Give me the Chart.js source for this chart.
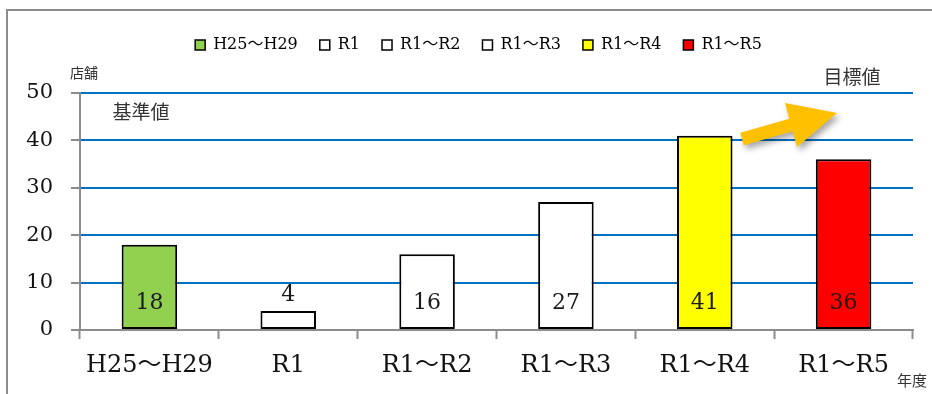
<!DOCTYPE html>
<html>
<head>
<meta charset="utf-8">
<script src="https://cdn.jsdelivr.net/npm/chart.js@4/dist/chart.umd.min.js"></script>
<style>
  html, body { margin: 0; padding: 0; background: #fff; }
  #wrap { position: relative; width: 932px; height: 394px; }
  canvas { display: block; }
</style>
</head>
<body>
<div id="wrap"><canvas id="c" width="932" height="394"></canvas></div>
<script>
const categories = ['H25〜H29', 'R1', 'R1〜R2', 'R1〜R3', 'R1〜R4', 'R1〜R5'];
const storeCounts = [18, 4, 16, 27, 41, 36];
const barColors = ['#92D050', '#FFFFFF', '#FFFFFF', '#FFFFFF', '#FFFF00', '#FF0000'];
const yTicks = [0, 10, 20, 30, 40, 50];

const SERIF = "'DejaVu Serif', 'Noto Sans CJK JP', serif";
const SANS = "'Noto Sans CJK JP', 'Noto Sans', sans-serif";

const legendFix = {
  id: 'legendFix',
  beforeInit(chart) {
    const orig = chart.legend.fit;
    chart.legend.fit = function () {
      orig.call(this);
      this.height = 78;
    };
  },
  afterLayout(chart) {
    chart.legend.left = 44;
  }
};

const frame = {
  id: 'frame',
  beforeDraw(chart) {
    const c = chart.ctx;
    c.save();
    c.strokeStyle = '#8c8c8c';
    c.lineWidth = 2;
    c.beginPath();
    c.moveTo(7, 394);
    c.lineTo(7, 10);
    c.lineTo(932, 10);
    c.stroke();
    c.restore();
  }
};

const valueLabels = {
  id: 'valueLabels',
  afterDatasetsDraw(chart) {
    const c = chart.ctx;
    const y0 = chart.scales.y.getPixelForValue(0);
    const meta = chart.getDatasetMeta(0);
    c.save();
    c.font = '22px ' + SERIF;
    c.fillStyle = '#1a1a1a';
    c.textAlign = 'center';
    c.textBaseline = 'middle';
    meta.data.forEach((bar, i) => {
      const v = storeCounts[i];
      const y = v >= 8 ? y0 - 27 : bar.y - 16;
      c.fillText(String(v), bar.x, y);
    });
    c.restore();
  }
};

const notes = {
  id: 'notes',
  afterDraw(chart) {
    const c = chart.ctx;
    c.save();
    c.shadowColor = 'rgba(0,0,0,0.35)';
    c.shadowBlur = 6;
    c.shadowOffsetX = 3;
    c.shadowOffsetY = 4;
    c.fillStyle = '#FFC000';
    c.beginPath();
    c.moveTo(740.3, 132.7);
    c.lineTo(789.3, 118.7);
    c.lineTo(785, 103);
    c.lineTo(837, 113);
    c.lineTo(797, 147);
    c.lineTo(792.7, 131.3);
    c.lineTo(743.7, 145.3);
    c.closePath();
    c.fill();
    c.shadowColor = 'transparent';
    c.fillStyle = '#333';
    c.textAlign = 'center';
    c.textBaseline = 'middle';
    c.font = '14px ' + SANS;
    c.fillText('店舗', 84, 73);
    c.font = '19px ' + SANS;
    c.fillText('基準値', 141, 112);
    c.fillText('目標値', 852, 77);
    c.font = '15px ' + SANS;
    c.fillText('年度', 912, 380);
    c.restore();
  }
};

new Chart(document.getElementById('c'), {
  type: 'bar',
  data: {
    labels: categories,
    datasets: [{
      data: storeCounts,
      backgroundColor: barColors,
      borderColor: '#000',
      borderWidth: 2,
      borderSkipped: false,
      categoryPercentage: 1,
      barPercentage: 0.4
    }]
  },
  options: {
    responsive: false,
    animation: false,
    layout: { padding: { left: 0, right: 19, top: 15, bottom: 0 } },
    plugins: {
      tooltip: { enabled: false },
      legend: {
        display: true,
        position: 'top',
        labels: {
          boxWidth: 10,
          boxHeight: 10,
          padding: 22,
          color: '#111',
          font: { family: SERIF, size: 16 },
          generateLabels() {
            return categories.map((cat, i) => ({
              text: cat,
              fillStyle: barColors[i],
              strokeStyle: '#000',
              lineWidth: 1.5,
              hidden: false,
              index: i,
              datasetIndex: 0
            }));
          }
        }
      }
    },
    scales: {
      x: {
        afterFit(s) { s.height = 64; },
        grid: {
          display: true,
          drawOnChartArea: false,
          drawTicks: true,
          tickLength: 9,
          tickColor: '#8c8c8c',
          tickWidth: 2,
          offset: true
        },
        border: { display: true, color: '#8c8c8c', width: 2 },
        ticks: {
          color: '#111',
          font: { family: SERIF, size: 24 },
          padding: 12,
          maxRotation: 0,
          autoSkip: false
        }
      },
      y: {
        min: 0,
        max: 50,
        afterFit(s) { s.width = 80; },
        afterBuildTicks(s) { s.ticks = yTicks.map(v => ({ value: v })); },
        grid: {
          color: ctx => (ctx.tick && ctx.tick.value === 0) ? 'rgba(0,0,0,0)' : '#0070C0',
          lineWidth: 2,
          tickColor: '#8c8c8c',
          tickLength: 9,
          tickWidth: 2
        },
        border: { display: true, color: '#8c8c8c', width: 2 },
        ticks: {
          color: '#111',
          font: { family: SERIF, size: 21 },
          padding: 18,
          stepSize: 10
        }
      }
    }
  },
  plugins: [legendFix, frame, valueLabels, notes]
});
</script>
</body>
</html>
